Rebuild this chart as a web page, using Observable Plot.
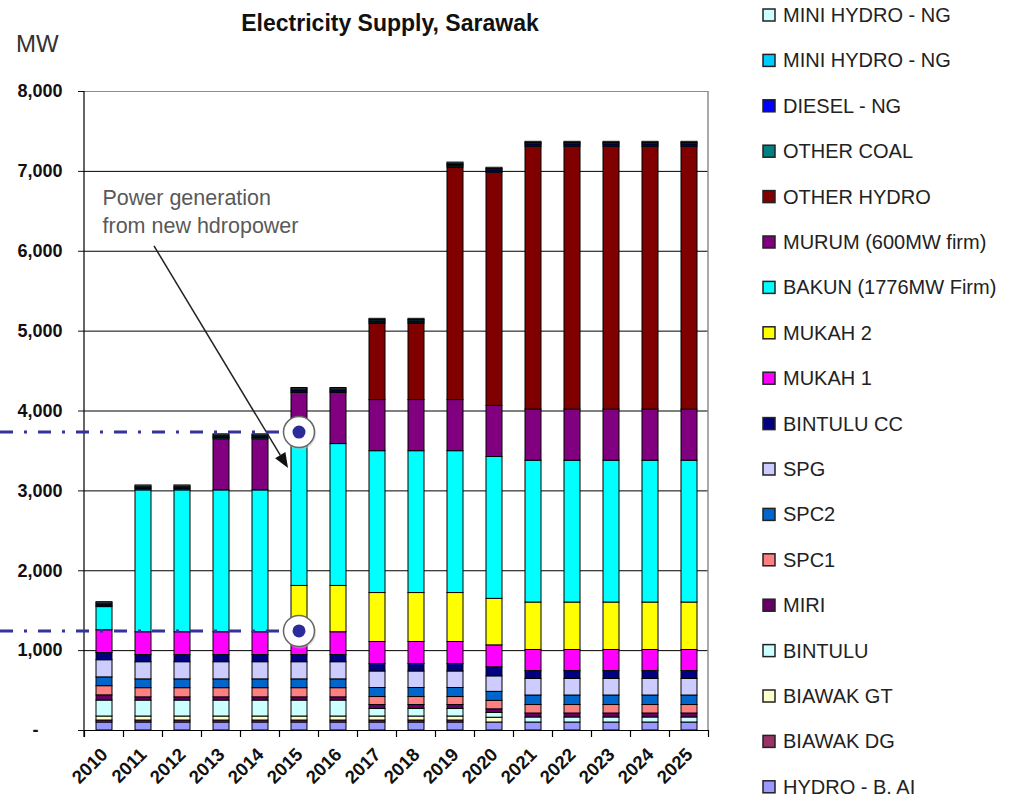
<!DOCTYPE html>
<html><head><meta charset="utf-8">
<script src="https://cdn.jsdelivr.net/npm/d3@7"></script>
<script src="https://cdn.jsdelivr.net/npm/@observablehq/plot@0.6"></script>
<style>body{margin:0;background:#fff;} svg{display:block;}</style>
</head><body><div id="chart"></div>
<script>
const years = [2010,2011,2012,2013,2014,2015,2016,2017,2018,2019,2020,2021,2022,2023,2024,2025];
const yTicks = [1000,2000,3000,4000,5000,6000,7000,8000];

// series, bottom of stack first
const seriesKeys   = ["hydroBAi","biawakDG","biawakGT","bintulu","miri","spc1","spc2","spg","bintuluCC","mukah1","mukah2","bakun","murum","otherHydro","otherCoal","diesel","miniHydro2","miniHydro1"];
const seriesLabels = ["HYDRO - B. AI","BIAWAK DG","BIAWAK GT","BINTULU","MIRI","SPC1","SPC2","SPG","BINTULU CC","MUKAH 1","MUKAH 2","BAKUN (1776MW Firm)","MURUM (600MW firm)","OTHER HYDRO","OTHER COAL","DIESEL - NG","MINI HYDRO - NG","MINI HYDRO - NG"];
const seriesColors = ["#9999FF","#993366","#FFFFCC","#CCFFFF","#660066","#FF8080","#0066CC","#CCCCFF","#000080","#FF00FF","#FFFF00","#00FFFF","#800080","#800000","#008080","#0000FF","#00CCFF","#CCFFFF"];

const hydroBAi   = [100,100,100,100,100,100,100,100,100,100,100,100,100,100,100,100];
const biawakDG   = [25,25,25,25,25,25,25,25,25,25,0,0,0,0,0,0];
const biawakGT   = [50,50,50,50,50,50,50,50,50,50,60,0,0,0,0,0];
const bintulu    = [200,200,200,200,200,200,200,94,94,94,60,63,63,63,63,63];
const miri       = [65,40,40,40,40,40,40,50,50,50,45,50,50,50,50,50];
const spc1       = [115,115,115,115,115,115,115,100,100,100,106,106,106,106,106,106];
const spc2       = [110,110,110,110,110,110,110,113,113,113,113,119,119,119,119,119];
const spg        = [215,215,215,215,215,215,215,207,207,207,194,207,207,207,207,207];
const bintuluCC  = [90,90,90,90,90,90,90,94,94,94,113,100,100,100,100,100];
const mukah1     = [285,285,285,285,285,285,285,275,275,275,275,263,263,263,263,263];
const mukah2     = [0,0,0,0,0,580,580,613,613,613,582,594,594,594,594,594];
const bakun      = [290,1776,1776,1776,1776,1776,1776,1776,1776,1776,1776,1776,1776,1776,1776,1776];
const murum      = [0,0,0,640,640,640,640,640,640,640,640,640,640,640,640,640];
const otherHydro = [0,0,0,0,0,0,0,955,955,2911,2919,3290,3290,3290,3290,3290];
const otherCoal  = [16,16,16,16,16,16,16,16,16,16,16,16,16,16,16,16];
const diesel     = [16,16,16,16,16,16,16,16,16,16,16,16,16,16,16,16];
const miniHydro2 = [15,15,15,15,15,15,15,15,15,15,15,15,15,15,15,15];
const miniHydro1 = [15,15,15,15,15,15,15,15,15,15,15,15,15,15,15,15];
const seriesValues = [hydroBAi,biawakDG,biawakGT,bintulu,miri,spc1,spc2,spg,bintuluCC,mukah1,mukah2,bakun,murum,otherHydro,otherCoal,diesel,miniHydro2,miniHydro1];

// annotation values (MW / year space)
const markerYear = "2015";
const markerLevels = [3730, 1240];
const noteLines = ["Power generation", "from new hdropower"];
const noteLevels = [6670, 6320];
const arrowFrom = {year: "2011", mw: 6060};
const arrowTo = {year: "2015", mw: 3280};

const rows = [];
seriesKeys.forEach((k, i) => years.forEach((y, j) => {
  const v = seriesValues[i][j];
  if (v > 0) rows.push({year: String(y), key: k, value: v});
}));

const font = "'Liberation Sans', Arial, sans-serif";
const chart = Plot.plot({
  width: 1009, height: 798,
  marginLeft: 84, marginRight: 301, marginTop: 91, marginBottom: 68,
  style: {fontFamily: font, background: "white", overflow: "visible", color: "#111"},
  x: {type: "band", domain: years.map(String), paddingInner: 0.6, paddingOuter: 0.3, label: null},
  y: {domain: [0, 8000], label: null},
  color: {domain: seriesKeys, range: seriesColors},
  marks: [
    Plot.ruleY(yTicks.slice(0, -1), {stroke: "#000", strokeWidth: 1}),
    Plot.ruleY([8000], {stroke: "#8c8c8c", strokeWidth: 1.2}),
    Plot.barY(rows, {x: "year", y: "value", z: "key", fill: "key", stroke: "#000", strokeWidth: 1}),
    Plot.ruleY([0], {stroke: "#000", strokeWidth: 1.2}),
    Plot.axisY(yTicks, {tickSize: 6, tickPadding: 16, tickFormat: d3.format(","), fontSize: 18, fontWeight: "bold", label: null}),
    Plot.axisY([0], {tickSize: 6, tickPadding: 40, tickFormat: () => "-", fontSize: 18, fontWeight: "bold", label: null}),
    Plot.axisX({tickSize: 0, tickPadding: 21, tickRotate: -45, fontSize: 18.5, fontWeight: "bold", label: null}),
    Plot.text(noteLines, {x: () => "2010", y: (d, i) => noteLevels[i], text: d => d, textAnchor: "start", dx: -2, fontSize: 21.5, fill: "#595959"})
  ]
});
document.getElementById("chart").append(chart);

const xs = chart.scale("x"), ys = chart.scale("y");
const svg = d3.select(chart);
const bw = xs.bandwidth, step = xs.step;
const cx = y => xs.apply(y) + bw / 2;
const xr = xs.range;
const yTop = ys.apply(8000), yBot = ys.apply(0);

// axis frame lines
svg.append("line").attr("x1", xr[1]).attr("x2", xr[1]).attr("y1", yTop).attr("y2", yBot).attr("stroke", "#8c8c8c").attr("stroke-width", 1.5);
svg.append("line").attr("x1", xr[0]).attr("x2", xr[0]).attr("y1", yTop).attr("y2", yBot + 7).attr("stroke", "#000").attr("stroke-width", 1.2);
// category boundary ticks
years.forEach(y => {
  const b = cx(String(y)) - step / 2;
  svg.append("line").attr("x1", b).attr("x2", b).attr("y1", yBot).attr("y2", yBot + 7).attr("stroke", "#000").attr("stroke-width", 1.2);
});
const lastB = cx(String(years[years.length - 1])) + step / 2;
svg.append("line").attr("x1", lastB).attr("x2", lastB).attr("y1", yBot).attr("y2", yBot + 7).attr("stroke", "#000").attr("stroke-width", 1.2);

// arrow
{
  const x1 = cx(arrowFrom.year) + 11, y1 = ys.apply(arrowFrom.mw);
  const x2 = cx(arrowTo.year) - 11, y2 = ys.apply(arrowTo.mw);
  const ang = Math.atan2(y2 - y1, x2 - x1), L = 15, W = 6;
  const bx = x2 - L * Math.cos(ang), by = y2 - L * Math.sin(ang);
  svg.append("line").attr("x1", x1).attr("y1", y1).attr("x2", bx).attr("y2", by).attr("stroke", "#222").attr("stroke-width", 1.5);
  const px = -Math.sin(ang) * W, py = Math.cos(ang) * W;
  svg.append("path").attr("d", `M${x2},${y2}L${bx + px},${by + py}L${bx - px},${by - py}Z`).attr("fill", "#111");
}

// dash-dot reference lines and markers
markerLevels.forEach(v => {
  const yy = ys.apply(v), xx = cx(markerYear);
  svg.append("line").attr("x1", 0).attr("x2", xx).attr("y1", yy).attr("y2", yy)
    .attr("stroke", "#333399").attr("stroke-width", 3).attr("stroke-dasharray", "13,11,3,11");
  svg.append("circle").attr("cx", xx + 1).attr("cy", yy + 1.5).attr("r", 16).attr("fill", "#bbb").attr("opacity", 0.5);
  svg.append("circle").attr("cx", xx).attr("cy", yy).attr("r", 15.5).attr("fill", "#fff").attr("stroke", "#666").attr("stroke-width", 1.5);
  svg.append("circle").attr("cx", xx).attr("cy", yy).attr("r", 6.5).attr("fill", "#2b2b9a");
});

// title and unit
svg.append("text").attr("x", 390).attr("y", 23).attr("text-anchor", "middle").attr("dominant-baseline", "central")
  .attr("font-family", font).attr("font-size", 23).attr("font-weight", "bold").attr("fill", "#111").text("Electricity Supply, Sarawak");
svg.append("text").attr("x", 16).attr("y", 43).attr("text-anchor", "start").attr("dominant-baseline", "central")
  .attr("font-family", font).attr("font-size", 24).attr("fill", "#333").text("MW");

// legend (top of stack first)
const legendOrder = seriesKeys.map((k, i) => i).reverse();
legendOrder.forEach((si, r) => {
  const yy = 15 + r * 45.4;
  svg.append("rect").attr("x", 763).attr("y", yy - 6).attr("width", 12).attr("height", 12)
    .attr("fill", seriesColors[si]).attr("stroke", "#222").attr("stroke-width", 1.5);
  svg.append("text").attr("x", 783).attr("y", yy).attr("text-anchor", "start").attr("dominant-baseline", "central")
    .attr("font-family", font).attr("font-size", 20).attr("fill", "#222").text(seriesLabels[si]);
});
</script></body></html>
